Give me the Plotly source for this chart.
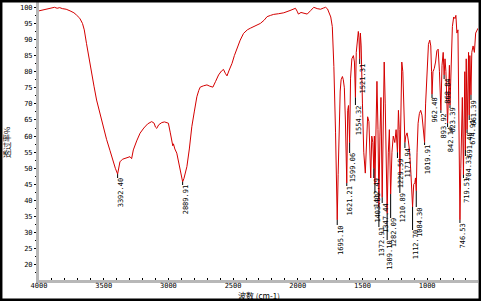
import plotly.graph_objects as go

# ---------------- data ----------------
wavenumber = [
    4000, 3960, 3930, 3900, 3880, 3860, 3840, 3820, 3790, 3760, 3730, 3710, 3685, 3664, 3650, 3633,
    3614, 3594, 3575, 3555, 3530, 3504, 3478, 3452, 3426, 3410, 3392.4, 3382, 3374.5, 3355, 3336,
    3316, 3297, 3284, 3271, 3245, 3219, 3190, 3160, 3129, 3110, 3100, 3090, 3075, 3051, 3030, 3010,
    3000, 2985, 2974, 2966, 2961, 2950, 2935, 2920, 2909, 2898, 2889.91, 2880, 2870, 2857, 2838,
    2819, 2800, 2780, 2765, 2754, 2730, 2702, 2680, 2656, 2635, 2612, 2590, 2574, 2560, 2547, 2530,
    2508, 2490, 2470, 2445, 2419, 2390, 2367, 2330, 2289, 2260, 2237, 2210, 2186, 2150, 2108, 2060,
    2018, 2005, 1995, 1975, 1953, 1927, 1900, 1876, 1850, 1824, 1800, 1785, 1770, 1760, 1745, 1733,
    1721, 1708, 1700, 1695.1, 1688, 1680, 1672, 1665, 1655, 1648, 1640, 1632, 1621.21, 1614, 1608,
    1599.06, 1592, 1582, 1570, 1562, 1554.32, 1548, 1540, 1532, 1527, 1521.31, 1516, 1510, 1500,
    1490, 1478, 1470, 1460, 1450, 1436, 1428, 1420, 1412.49, 1408, 1403.81, 1396, 1388, 1380,
    1372.91, 1365, 1357, 1347.44, 1340, 1332, 1324, 1316, 1309.10, 1300, 1292, 1282.09, 1272, 1262,
    1250, 1240, 1229.59, 1222, 1216, 1210.89, 1204, 1196, 1188, 1180, 1171.94, 1165, 1155, 1145,
    1135, 1125, 1112.70, 1104, 1095, 1090, 1084.30, 1078, 1070, 1060, 1050, 1040, 1030, 1019.91,
    1012, 1000, 990, 980, 972, 966, 962.48, 955, 945, 935, 925, 915, 905, 893.92, 885, 876, 868.84,
    862, 855, 842.14, 835, 828, 823.39, 815, 805, 795, 785, 778, 770, 762, 755, 746.53, 740, 735,
    728, 719.51, 714, 709, 704.33, 698, 691.40, 685, 680, 674.91, 670, 661.39, 655, 645, 635, 625,
    615, 607,
]
transmittance = [
    98.9, 99.3, 99.6, 99.8, 100.0, 99.7, 99.9, 99.6, 99.4, 98.9, 98.3, 97.6, 96.6, 95.0, 93.0, 88.8,
    84.0, 79.5, 75.5, 71.2, 67.0, 62.9, 59.0, 55.6, 52.0, 50.0, 48.2, 50.0, 52.0, 52.8, 53.1,
    53.4, 53.6, 53.0, 55.7, 58.5, 60.9, 62.5, 63.8, 64.5, 64.0, 62.8, 62.4, 63.5, 64.2, 64.4, 64.2,
    64.0, 61.0, 58.8, 57.0, 57.6, 56.0, 54.7, 52.0, 49.5, 47.0, 45.8, 46.8, 48.5, 50.5, 56.0,
    62.9, 67.5, 72.2, 74.2, 75.2, 75.6, 75.9, 75.5, 75.2, 77.0, 79.0, 80.2, 80.7, 79.5, 78.7, 80.5,
    82.6, 85.0, 87.3, 89.8, 91.9, 93.0, 93.5, 94.3, 95.0, 96.0, 97.1, 97.5, 97.8, 98.0, 98.3, 99.0,
    99.7, 98.8, 97.9, 98.4, 98.1, 97.9, 99.0, 100.0, 99.6, 99.4, 99.8, 100.0, 99.5, 98.6, 97.0, 94.0,
    81.6, 61.0, 45.0, 34.0, 48.0, 65.0, 74.0, 77.5, 78.5, 77.5, 75.0, 65.0, 45.4, 68.0, 69.5,
    58.0, 78.0, 84.0, 85.0, 83.0, 72.0, 86.0, 91.0, 92.5, 90.5, 84.0, 92.0, 88.0, 70.0,
    55.0, 48.5, 58.0, 66.0, 64.5, 47.0, 60.0, 58.0, 50.0, 60.0, 45.0, 70.0, 77.0, 62.0,
    38.0, 60.0, 72.0, 41.0, 62.0, 83.0, 70.0, 55.0, 36.0, 55.0, 62.0, 42.0, 55.0, 60.0,
    58.0, 62.0, 55.0, 68.0, 62.0, 48.0, 72.0, 83.0, 80.0, 68.0, 58.0, 60.0, 61.0, 58.5,
    55.0, 48.0, 38.0, 45.0, 45.5, 47.0, 43.0, 55.0, 64.0, 67.0, 68.0, 66.5, 63.0, 58.0,
    70.0, 83.0, 88.5, 89.8, 88.0, 80.0, 73.0, 80.0, 81.0, 83.0, 86.5, 87.0, 80.0, 68.0, 82.0, 86.0, 79.0,
    84.0, 80.0, 64.0, 78.0, 82.0, 69.6, 85.0, 94.0, 97.0, 96.5, 97.5, 92.0, 93.0, 70.0, 34.0, 50.0, 67.0,
    72.0, 48.0, 72.0, 80.0, 55.7, 84.0, 62.0, 83.0, 86.0, 66.5, 85.0, 72.8, 86.0, 88.0, 86.0, 92.0,
    93.0, 93.5,
]

peak_labels = ["3392.40", "2889.91", "1695.10", "1621.21", "1599.06", "1554.32", "1521.31",
               "1412.49", "1403.81", "1372.91", "1347.44", "1309.10", "1282.09", "1210.89",
               "1229.59", "1171.94", "1112.70", "1084.30", "1019.91", "962.48", "893.92",
               "868.84", "842.14", "823.39", "746.53", "719.51", "704.33", "691.40", "674.91",
               "661.39"]
peak_wn = [3392.4, 2889.91, 1695.1, 1621.21, 1599.06, 1554.32, 1521.31, 1412.49, 1403.81,
           1372.91, 1347.44, 1309.10, 1282.09, 1210.89, 1229.59, 1171.94, 1112.70, 1084.30,
           1019.91, 962.48, 893.92, 868.84, 842.14, 823.39, 746.53, 719.51, 704.33, 691.40,
           674.91, 661.39]

y_tick_vals = [20, 25, 30, 35, 40, 45, 50, 55, 60, 65, 70, 75, 80, 85, 90, 95, 100]
x_tick_vals = [4000, 3500, 3000, 2500, 2000, 1500, 1000]

# ---------------- layout / positions ----------------
W, H = 481, 301
ML, MR, MT, MB = 39, 3, 2, 21
PW, PH = W - ML - MR, H - MT - MB
X_RANGE = [4000, 607]
Y_RANGE = [15.3, 101.65]

# label top positions (pixels from top of page)
label_top_px = [178, 185, 225, 186, 153, 105, 64, 178, 193, 227, 203, 240, 218, 193, 158, 148,
                230, 207, 145, 98, 113, 79, 127, 108, 223, 178, 156, 133, 120, 100]

def px_to_t(py):
    return Y_RANGE[1] - (py - MT) * (Y_RANGE[1] - Y_RANGE[0]) / PH

def px_to_paper_x(px):
    return (px - ML) / PW

def px_to_paper_y(py):
    return (MT + PH - py) / PH

t_lookup = dict(zip(wavenumber, transmittance))

fig = go.Figure()
fig.add_trace(go.Scatter(x=wavenumber, y=transmittance, mode="lines",
                         line=dict(color="#d40000", width=1), hoverinfo="skip"))

CW = 4.2  # char width of label font
shapes = []
annotations = []
for txt, wn, top in zip(peak_labels, peak_wn, label_top_px):
    t_min = t_lookup[wn]
    t_top = px_to_t(top)
    shapes.append(dict(type="line", xref="x", yref="y", x0=wn, x1=wn, y0=t_min, y1=t_top,
                       line=dict(color="black", width=1)))
    center_px = top + len(txt) * CW / 2
    annotations.append(dict(x=wn, y=px_to_t(center_px), xref="x", yref="y", text=txt,
                            showarrow=False, textangle=-90, xshift=3,
                            xanchor="center", yanchor="middle",
                            font=dict(family="DejaVu Sans Mono", size=7, color="black")))

# axis titles
annotations.append(dict(x=0.5, y=px_to_paper_y(295), xref="paper", yref="paper",
                        text="波数 (cm-1)", showarrow=False, xanchor="center", yanchor="middle",
                        font=dict(family="Noto Sans CJK SC", size=8, color="black")))
annotations.append(dict(x=px_to_paper_x(6), y=px_to_paper_y(142), xref="paper", yref="paper",
                        text="透过率%", showarrow=False, textangle=-90, xanchor="center",
                        yanchor="middle",
                        font=dict(family="Noto Sans CJK SC", size=8, color="black")))

# black frame round the whole picture
shapes.append(dict(type="rect", xref="paper", yref="paper",
                   x0=px_to_paper_x(1.2), x1=px_to_paper_x(479.8),
                   y0=px_to_paper_y(299.8), y1=px_to_paper_y(1.2),
                   line=dict(color="black", width=2.5), fillcolor="rgba(0,0,0,0)"))

fig.update_layout(
    width=W, height=H,
    margin=dict(l=ML, r=MR, t=MT, b=MB, pad=0),
    paper_bgcolor="white", plot_bgcolor="white",
    showlegend=False,
    shapes=shapes, annotations=annotations,
    xaxis=dict(range=X_RANGE, tickvals=x_tick_vals, ticktext=[str(v) for v in x_tick_vals],
               showgrid=False, zeroline=False, showline=True, linecolor="#b8b8b8", linewidth=3,
               ticks="inside", ticklen=2, tickcolor="black", tickwidth=1,
               ticklabelstandoff=-3,
               minor=dict(dtick=100, tick0=4000, ticks="inside", ticklen=2, tickcolor="black"),
               tickfont=dict(family="DejaVu Sans Mono", size=7, color="black")),
    yaxis=dict(range=Y_RANGE, tickvals=y_tick_vals, ticktext=[str(v) for v in y_tick_vals],
               showgrid=False, zeroline=False, showline=True, linecolor="#b8b8b8", linewidth=3,
               ticks="outside", ticklen=2, tickcolor="black", tickwidth=1,
               minor=dict(dtick=2.5, tick0=20, ticks="outside", ticklen=1, tickcolor="black"),
               tickfont=dict(family="DejaVu Sans Mono", size=7, color="black")),
)

fig.write_html("out.html")
